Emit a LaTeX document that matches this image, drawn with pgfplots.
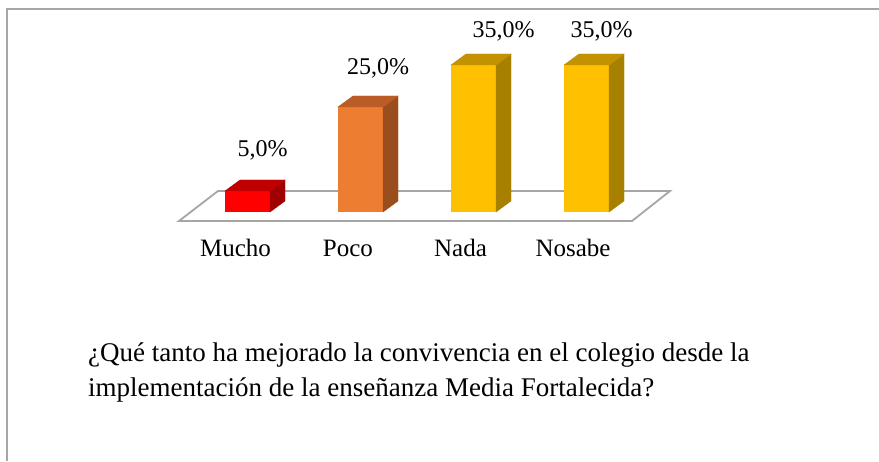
\documentclass[border=0pt]{standalone}
\usepackage{fontspec}
\setmainfont{Liberation Serif}
\usepackage{pgfplots}
\pgfplotsset{compat=1.18}
\definecolor{redF}{HTML}{FF0000}
\definecolor{redT}{HTML}{C00000}
\definecolor{redS}{HTML}{A00000}
\definecolor{orF}{HTML}{ED7D31}
\definecolor{orT}{HTML}{B95C25}
\definecolor{orS}{HTML}{9A4E1E}
\definecolor{yeF}{HTML}{FFC000}
\definecolor{yeT}{HTML}{C29200}
\definecolor{yeS}{HTML}{A88000}
\definecolor{frame}{HTML}{A6A6A6}
\pgfplotsset{
  front/.style n args={4}{ybar, bar width=45pt, bar shift=0pt, fill=#1, draw=none,
    nodes near coords={\pgfmathprintnumber[fixed,fixed zerofill,precision=1,use comma,assume math mode=true]{\pgfplotspointmeta}\%},
    every node near coord/.style={anchor=base, xshift=#2, yshift=#3, font=\fontsize{24}{28}\selectfont, text=black, inner sep=0pt}},
  box/.style n args={2}{only marks, scatter, mark=none,
    visualization depends on={rawy \as \hval},
    scatter/@pre marker code/.code={%
      \pgfmathsetmacro\hh{\hval*4.2}%
      \fill[#2] (22.5pt,0pt) -- ++(15pt,11pt) -- ++(0pt,-\hh pt) -- ++(-15pt,-11pt) -- cycle;
      \fill[#1] (-22.5pt,0pt) -- (22.5pt,0pt) -- ++(15pt,11pt) -- ++(-45pt,0pt) -- cycle;
    },
    scatter/@post marker code/.code={}}
}
\begin{document}
\begin{tikzpicture}[x=1pt,y=1pt]
\useasboundingbox (0,0) rectangle (879,461);
\fill[white] (0,0) rectangle (879,461);
\draw[frame, line width=1.6pt] (7,0) -- (7,452) -- (879,452);
\begin{axis}[
  at={(0,0)}, anchor=south west,
  scale only axis, width=879pt, height=461pt,
  xmin=-2.19027, xmax=5.58850,
  ymin=-59.2857, ymax=50.4762,
  hide axis, clip=false]
  % floor
  \draw[frame, line width=1.8pt, fill=white]
    (axis cs:-0.6062,-2.143) -- (axis cs:3.4027,-2.143) -- (axis cs:3.7389,5) -- (axis cs:-0.2611,5) -- cycle;
  \addplot[front={redF}{15pt}{34pt}] coordinates {(0,5)};
  \addplot[front={orF}{17.5pt}{32pt}] coordinates {(1,25)};
  \addplot[front={yeF}{30pt}{27pt}] coordinates {(2,35)};
  \addplot[front={yeF}{15pt}{27pt}] coordinates {(3,35)};
  \addplot[box={redT}{redS}] coordinates {(0,5)};
  \addplot[box={orT}{orS}] coordinates {(1,25)};
  \addplot[box={yeT}{yeS}] coordinates {(2,35)};
  \addplot[box={yeT}{yeS}] coordinates {(3,35)};
  \node[anchor=base, inner sep=0pt, font=\fontsize{25}{28}\selectfont] at (axis cs:-0.106,-10.714) {Mucho};
  \node[anchor=base, inner sep=0pt, font=\fontsize{25}{28}\selectfont] at (axis cs:0.889,-10.714) {Poco};
  \node[anchor=base, inner sep=0pt, font=\fontsize{25}{28}\selectfont] at (axis cs:1.885,-10.714) {Nada};
  \node[anchor=base, inner sep=0pt, font=\fontsize{25}{28}\selectfont] at (axis cs:2.881,-10.714) {Nosabe};
\end{axis}
\node[anchor=base west, inner sep=0pt, font=\fontsize{27}{30}\selectfont] at (88,99) {¿Qué tanto ha mejorado la convivencia en el colegio desde la};
\node[anchor=base west, inner sep=0pt, font=\fontsize{27}{30}\selectfont] at (88,64) {implementación de la enseñanza Media Fortalecida?};
\end{tikzpicture}
\end{document}
